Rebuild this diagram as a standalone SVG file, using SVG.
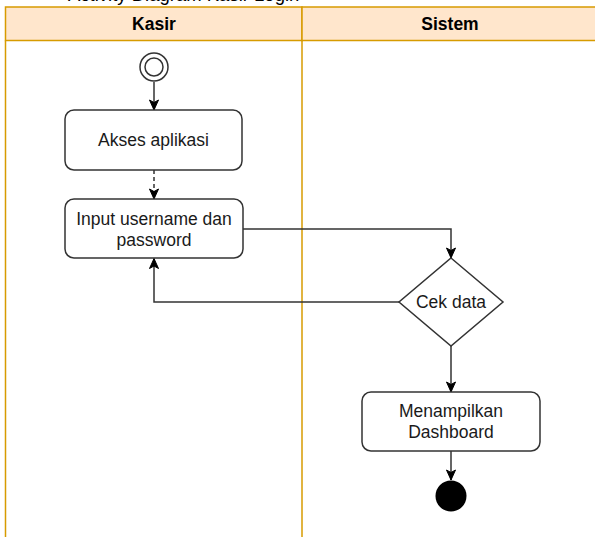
<svg xmlns="http://www.w3.org/2000/svg" width="595" height="537" viewBox="0 0 595 537">
<style>
.lane{fill:none;stroke:#d79b00;stroke-width:1.5}
.hdr{fill:#ffe6cc;stroke:#d79b00;stroke-width:1.5}
.ht{font-family:"Liberation Sans",Arial,sans-serif;font-size:17.5px;font-weight:bold;fill:#000;text-anchor:middle;dominant-baseline:central}
.box{fill:#fff;stroke:#333;stroke-width:1.5}
.t{font-family:"Liberation Sans",Arial,sans-serif;font-size:17.5px;fill:#1a1a1a;text-anchor:middle;dominant-baseline:central}
.edge{fill:none;stroke:#333;stroke-width:1.5;marker-end:url(#arr)}
.cap{font-family:"Liberation Sans",Arial,sans-serif;font-size:18.5px;fill:#000}
</style>
<defs>
<marker id="arr" markerUnits="userSpaceOnUse" markerWidth="12" markerHeight="12" viewBox="0 0 12 12" refX="11" refY="6" orient="auto">
<path d="M1,1.5 L11,6 L1,10.5 L3.5,6 z" fill="#000" stroke="#000" stroke-width="1"/>
</marker>
</defs>
<rect width="595" height="537" fill="#fff"/>
<text class="cap" x="68" y="0.8">Activity Diagram Kasir Login</text>
<g id="pool">
<rect class="hdr" x="5.5" y="7" width="296.5" height="33.5"/>
<rect class="hdr" x="302" y="7" width="296" height="33.5"/>
<line class="lane" x1="5.5" y1="40.5" x2="5.5" y2="540"/>
<line class="lane" x1="302" y1="40.5" x2="302" y2="540"/>
<text class="ht" x="154" y="24">Kasir</text>
<text class="ht" x="450" y="24">Sistem</text>
</g>
<g id="connectors">
<path class="edge" d="M154,82 V110"/>
<path class="edge" d="M154,170 V199" stroke-dasharray="4 3"/>
<path class="edge" d="M243,229 H451 V258"/>
<path class="edge" d="M399,302 H154 V258.5"/>
<path class="edge" d="M451,346 V392"/>
<path class="edge" d="M451,451 V480"/>
</g>
<g id="start">
<circle cx="154" cy="67" r="14" fill="#fff" stroke="#333" stroke-width="1.5"/>
<circle cx="154" cy="67" r="9" fill="#fff" stroke="#333" stroke-width="1.5"/>
</g>
<g id="akses">
<rect class="box" x="65" y="110" width="177" height="60" rx="9"/>
<text class="t" x="153.5" y="140">Akses aplikasi</text>
</g>
<g id="input">
<rect class="box" x="65" y="199" width="178" height="59" rx="9"/>
<text class="t" x="154" y="219">Input username dan</text>
<text class="t" x="154" y="240">password</text>
</g>
<g id="cek">
<polygon class="box" points="451,258 503,302 451,346 399,302"/>
<text class="t" x="451" y="302">Cek data</text>
</g>
<g id="dashboard">
<rect class="box" x="362" y="392" width="178" height="59" rx="9"/>
<text class="t" x="451" y="411">Menampilkan</text>
<text class="t" x="451" y="432">Dashboard</text>
</g>
<g id="end">
<circle cx="451" cy="496" r="15.5" fill="#000"/>
</g>
</svg>
